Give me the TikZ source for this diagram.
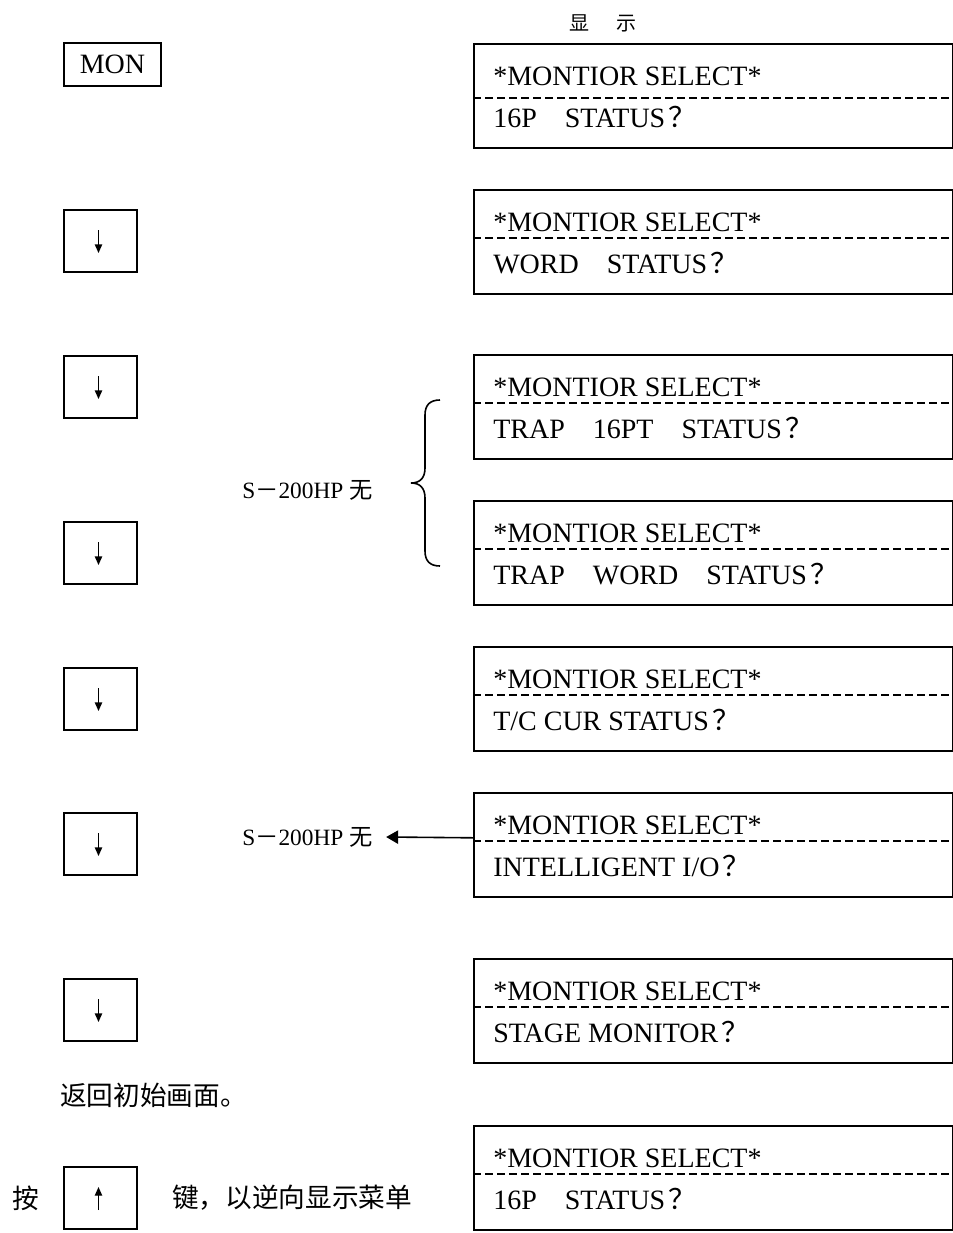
\documentclass[tikz,border=0pt]{standalone}
\usepackage{fontspec}
\setmainfont{Liberation Serif}
\newfontfamily\cjk{Noto Sans CJK SC}
\usetikzlibrary{arrows.meta}
\newcommand\Disp[4]{%
  \node[dispbox, anchor=north west] (#1) at (473,#2) {};
  \draw[dashline] (473,{#2+#3}) -- (952,{#2+#3});
  \node[disptext] (#1a) at (493,{#2+42}) {*MONTIOR SELECT*};
  \node[disptext] (#1b) at (493,{#2+84}) {#4};
}
\newcommand\Q{\kern2.5pt{\cjk ？}}
\begin{document}
\begin{tikzpicture}[x=0.75pt,y=-0.75pt,
  dispbox/.style={draw, line width=1.2pt, minimum width=359.25pt, minimum height=78pt, inner sep=0pt},
  dashline/.style={line width=1.2pt, dash pattern=on 6pt off 3pt},
  disptext/.style={anchor=base west, inner sep=0pt, font=\fontsize{21pt}{25pt}\selectfont},
  keybox/.style={draw, line width=1.2pt, minimum width=54.75pt, minimum height=46.5pt, inner sep=0pt},
  keyarrow/.style={line width=1pt, -{Triangle[length=6.5pt,width=5.5pt]}},
  lbl/.style={anchor=west, inner sep=0pt, font=\fontsize{17.5pt}{20pt}\selectfont},
  cjktext/.style={anchor=west, inner sep=0pt, font=\fontsize{20pt}{24pt}\selectfont\cjk},
  conn/.style={line width=1.2pt, -{Triangle[length=9pt,width=10pt]}}
]
\useasboundingbox (0,0) rectangle (953,1233);

% title
\node[font=\fontsize{15pt}{18pt}\selectfont\cjk, inner sep=0pt] (title) at (603,23) {显\hspace{1.4em}示};

% display boxes
\Disp{d1}{43}{55}{16P\quad STATUS\Q}
\Disp{d2}{189}{49}{WORD\quad STATUS\Q}
\Disp{d3}{354}{49}{TRAP\quad 16PT\quad STATUS\Q}
\Disp{d4}{500}{49}{TRAP\quad WORD\quad STATUS\Q}
\Disp{d5}{646}{49}{T/C CUR STATUS\Q}
\Disp{d6}{792}{49}{INTELLIGENT I/O\Q}
\Disp{d7}{958}{49}{STAGE MONITOR\Q}
\Disp{d8}{1125}{49}{16P\quad STATUS\Q}

% keys
\node[draw, line width=1.2pt, minimum width=72.75pt, minimum height=32.25pt, inner sep=0pt,
      font=\fontsize{21pt}{25pt}\selectfont] (mon) at (112.5,64.5) {MON};
\foreach \n/\y in {k1/241, k2/387, k3/553, k4/699, k5/844, k6/1010}{
  \node[keybox] (\n) at (100.5,\y) {};
  \draw[keyarrow] ([xshift=-1.5pt,yshift=8.25pt]\n.center) -- ([xshift=-1.5pt,yshift=-9pt]\n.center);
}
\node[keybox] (up) at (100.5,1198) {};
\draw[keyarrow] ([xshift=-1.5pt,yshift=-9pt]up.center) -- ([xshift=-1.5pt,yshift=8.25pt]up.center);

% brace and labels
\draw[line width=1.2pt] (440,400) .. controls (430,400) and (425,405) .. (425,415)
  -- (425,468) .. controls (425,478) and (420,483) .. (411,483)
  .. controls (420,483) and (425,488) .. (425,498)
  -- (425,551) .. controls (425,561) and (430,566) .. (440,566);
\node[lbl] (s1) at (242,490) {S{\cjk －}200HP {\cjk 无}};
\node[lbl] (s2) at (242,837) {S{\cjk －}200HP {\cjk 无}};
\draw[conn] ([yshift=5.25pt]d6.west) -- ([xshift=10pt]s2.east |- 0,837);

% bottom texts
\node[cjktext] (ret) at (60,1095) {返回初始画面。};
\node[cjktext] (an) at (12,1198) {按};
\node[cjktext] (jian) at (172,1198) {键，以逆向显示菜单};
\end{tikzpicture}
\end{document}
